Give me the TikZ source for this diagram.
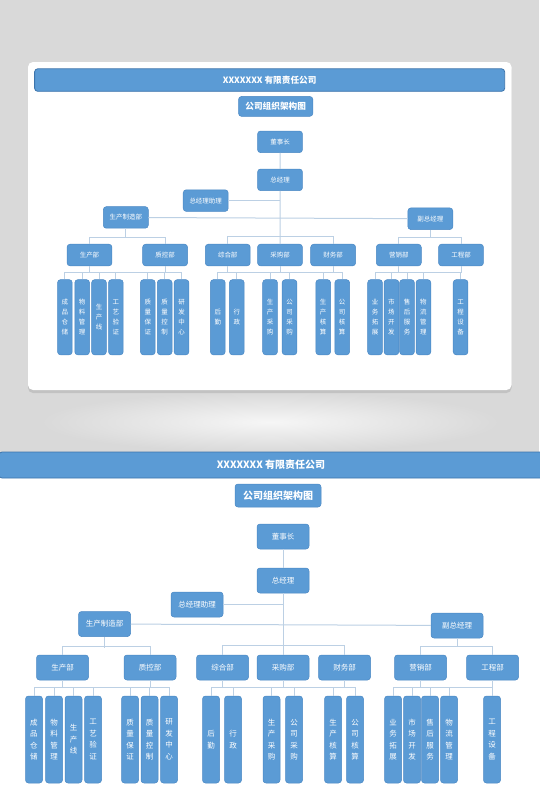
\documentclass[tikz,border=0pt]{standalone}
\usepackage{fontspec}
\setmainfont{Noto Sans CJK SC}
\usepackage{xcolor}
\usetikzlibrary{shadows}

\definecolor{boxblue}{HTML}{5B9BD5}
\definecolor{boxedge}{HTML}{4A88C4}
\definecolor{baredge}{HTML}{3C74AC}
\definecolor{linkblue}{HTML}{BCD0E4}
\definecolor{pagegrey}{HTML}{D9D9D9}

% one copy of the chart, in pixel coordinates of the large view
\newcommand{\orgchart}{%
\node[bar] (head) at (271,465) {XXXXXXX 有限责任公司};
\node[box, minimum width=86pt, minimum height=23pt, font=\fontsize{10}{12}\selectfont\bfseries] (title) at (278,495.5) {公司组织架构图};

\node[box] (dsz) at (283,536.5) {董事长};
\node[box] (zjl) at (283,580.5) {总经理};
\node[box] (zl) at (197,604.5) {总经理助理};
\node[box] (sczz) at (104.5,624) {生产制造部};
\node[box] (fzjl) at (457,625.5) {副总经理};

\node[box] (scb) at (62.5,667.5) {生产部};
\node[box] (zkb) at (150,667.5) {质控部};
\node[box] (zhb) at (222.5,667.5) {综合部};
\node[box] (cgb) at (283,667.5) {采购部};
\node[box] (cwb) at (344.5,667.5) {财务部};
\node[box] (yxb) at (420.5,667.5) {营销部};
\node[box] (gcb) at (492.5,667.5) {工程部};

\foreach \x/\t/\n in {34/{成\\品\\仓\\储}/l1, 54/{物\\料\\管\\理}/l2,
    73.5/{生\\产\\线}/l3, 93/{工\\艺\\验\\证}/l4, 130/{质\\量\\保\\证}/l5,
    149.5/{质\\量\\控\\制}/l6, 169/{研\\发\\中\\心}/l7, 211/{后\\勤}/l8,
    233/{行\\政}/l9, 271.5/{生\\产\\采\\购}/l10, 294/{公\\司\\采\\购}/l11,
    333/{生\\产\\核\\算}/l12, 355/{公\\司\\核\\算}/l13, 393/{业\\务\\拓\\展}/l14,
    412/{市\\场\\开\\发}/l15, 430/{售\\后\\服\\务}/l16, 449/{物\\流\\管\\理}/l17,
    492/{工\\程\\设\\备}/l18}
  \node[leaf] (\n) at (\x,739.5) {\t};

% top levels
\draw[link] (dsz) -- (zjl);
\draw[link] (zjl) -- (cgb);
\draw[link] (zl.east) -- (zl.east -| zjl.south);
\draw[link] (sczz) -- (fzjl);
\draw[link] (sczz.south) -- ++(0,11);
\draw[link] (fzjl.south) -- ++(0,9);
\draw[link] (scb.north) -- ++(0,-8) -| (zkb.north);
\draw[link] (zhb.north) -- ++(0,-9) -| (cwb.north);
\draw[link] (yxb.north) -- ++(0,-8) -| (gcb.north);

% departments to sections
\foreach \n in {scb,zkb,zhb,cgb,cwb,yxb,gcb}
  \draw[link] (\n.south) -- ++(0,8);
\draw[link] (l1.north) -- ++(0,-8) -| (l7.north);
\draw[link] (l8.north) -- ++(0,-8) -| (l13.north);
\draw[link] (l14.north) -- ++(0,-8) -| (l18.north);
\foreach \n in {l2,l3,l4,l5,l6,l9,l10,l11,l12,l15,l16,l17}
  \draw[link] (\n.north) -- ++(0,-8);
}

\begin{document}
\begin{tikzpicture}[
  x=1pt, y=-1pt,
  box/.style={draw=boxedge, fill=boxblue, line width=0.5pt, rounded corners=3pt,
    text=white, minimum width=52pt, minimum height=25pt, inner sep=1pt,
    font=\fontsize{7.5}{9}\selectfont},
  bar/.style={draw=baredge, fill=boxblue, line width=0.8pt, rounded corners=3pt,
    text=white, minimum width=544pt, minimum height=26pt, inner sep=0pt,
    font=\fontsize{10}{12}\selectfont\bfseries},
  leaf/.style={box, minimum width=17pt, minimum height=87pt, inner sep=0pt,
    align=center, font=\fontsize{7.5}{11.5}\selectfont},
  link/.style={draw=linkblue, line width=1pt}
]
\useasboundingbox (0,0) rectangle (539,812);
\fill[white] (0,0) rectangle (539,812);
\fill[pagegrey] (0,0) rectangle (539,452);
\shade[inner color=white!93!gray, outer color=pagegrey] (40,392) rectangle (500,452);

% card with the small preview
\fill[white, rounded corners=5pt, drop shadow={shadow xshift=0pt, shadow yshift=-3pt, opacity=0.25}]
  (28,62) rectangle (511.5,390);
\begin{scope}[shift={(35.5,-321.7)}, scale=0.864, transform shape, name prefix=small-]
  \orgchart
\end{scope}

% large view
\begin{scope}[name prefix=big-]
  \orgchart
\end{scope}
\end{tikzpicture}
\end{document}
